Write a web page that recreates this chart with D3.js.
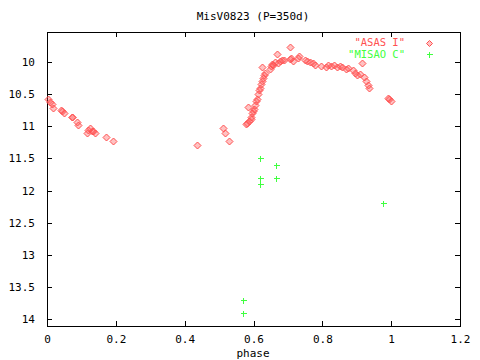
<!DOCTYPE html>
<html><head><meta charset="utf-8">
<script src="https://cdn.jsdelivr.net/npm/d3@7"></script>
<style>body{margin:0;background:#fff}svg{display:block}text{font-family:"DejaVu Sans Mono",monospace;font-size:11px}</style>
</head><body>
<script>
const title = "MisV0823 (P=350d)";
const xLabel = "phase";
const seriesNames = ["\"ASAS I\"", "\"MISAO C\""];
const seriesColors = ["#ff5050", "#40ff40"];
const xTicks = [0, 0.2, 0.4, 0.6, 0.8, 1, 1.2];
const yTicks = [10, 10.5, 11, 11.5, 12, 12.5, 13, 13.5, 14];
const asasPhase = [0.003,0.010,0.014,0.017,0.040,0.045,0.050,0.072,0.074,0.088,0.091,0.117,0.120,0.125,0.130,0.135,0.140,0.172,0.193,
 0.436,0.512,0.518,0.530,
 0.577,0.580,0.585,0.588,0.592,0.594,0.597,0.599,0.601,0.604,0.607,0.610,0.613,0.616,0.620,0.623,0.625,0.627,0.631,0.634,0.625,
 0.648,0.651,0.654,0.658,0.662,0.667,0.670,0.676,0.684,0.690,0.705,0.707,0.708,0.715,0.730,0.733,0.750,0.756,0.765,0.772,0.779,
 0.795,0.810,0.816,0.826,0.833,0.842,0.850,0.858,0.870,0.876,0.888,0.896,0.900,0.916,0.910,0.920,0.927,0.933,0.936,0.990,0.995,1.000];
const asasMag = [10.58,10.62,10.66,10.71,10.75,10.77,10.80,10.85,10.86,10.94,10.98,11.10,11.06,11.03,11.08,11.07,11.11,11.16,11.23,
 11.29,11.03,11.11,11.23,
 10.97,10.95,10.70,10.92,10.89,10.85,10.80,10.76,10.73,10.67,10.60,10.57,10.50,10.44,10.40,10.35,10.30,10.25,10.20,10.17,10.08,
 10.11,10.06,10.03,10.05,10.00,9.88,10.02,9.99,9.97,9.97,9.96,9.76,9.94,9.98,9.93,9.90,9.97,9.98,10.00,10.02,10.04,
 10.06,10.07,10.05,10.06,10.05,10.07,10.06,10.08,10.11,10.10,10.13,10.17,10.20,10.02,10.19,10.24,10.29,10.36,10.40,10.56,10.58,10.61];
const misaoPhase = [0.620,0.666,0.620,0.666,0.620,0.976,0.569,0.569];
const misaoMag = [11.50,11.61,11.81,11.81,11.90,12.20,13.71,13.91];

const W = 480, H = 360;
const L = 47, R = 460, T = 32, B = 326;
const svg = d3.select("body").append("svg").attr("width", W).attr("height", H);
const x = d3.scaleLinear().domain([0, 1.2]).range([L, R]);
const y = d3.scaleLinear().domain([9.533, 14.109]).range([T, B]);

svg.append("text").attr("x", 253).attr("y", 20).attr("text-anchor", "middle").text(title);
svg.append("text").attr("x", 253).attr("y", 357).attr("text-anchor", "middle").text(xLabel);

const g = svg.append("g").attr("shape-rendering", "crispEdges");
const fmt = d => String(d);
const xb = g.append("g").attr("transform", `translate(0,${B})`).call(d3.axisBottom(x).tickValues(xTicks).tickFormat(fmt).tickSizeInner(-5).tickSizeOuter(0).tickPadding(9));
const xt = g.append("g").attr("transform", `translate(0,${T})`).call(d3.axisTop(x).tickValues(xTicks).tickFormat("").tickSizeInner(-5).tickSizeOuter(0));
const yl = g.append("g").attr("transform", `translate(${L},0)`).call(d3.axisLeft(y).tickValues(yTicks).tickFormat(fmt).tickSizeInner(-5).tickSizeOuter(0).tickPadding(12));
const yr = g.append("g").attr("transform", `translate(${R},0)`).call(d3.axisRight(y).tickValues(yTicks).tickFormat("").tickSizeInner(-5).tickSizeOuter(0));
[xb, xt, yl, yr].forEach(a => { a.select(".domain").remove(); a.selectAll("line").attr("stroke", "#000"); a.selectAll("text").attr("fill", "#000").style("font-size", "11px").style("font-family", "'DejaVu Sans Mono',monospace"); });
g.append("rect").attr("x", L).attr("y", T).attr("width", R - L).attr("height", B - T).attr("fill", "none").attr("stroke", "#000");

const diamond = (cx, cy, r) => `M${cx},${cy - r}L${cx + r},${cy}L${cx},${cy + r}L${cx - r},${cy}Z`;
const plus = (cx, cy, r) => `M${cx - r},${cy}H${cx + r}M${cx},${cy - r}V${cy + r}`;

const asas = asasPhase.map((p, i) => [p, asasMag[i]]);
const misao = misaoPhase.map((p, i) => [p, misaoMag[i]]);

svg.append("g").selectAll("path").data(asas).join("path")
  .attr("d", d => diamond(Math.round(x(d[0])) + 0.5, Math.round(y(d[1])) + 0.5, 3.5))
  .attr("fill", seriesColors[0]).attr("fill-opacity", 0.35).attr("stroke", seriesColors[0]).attr("stroke-width", 1);
svg.append("g").selectAll("path").data(misao).join("path")
  .attr("d", d => plus(Math.round(x(d[0])) + 0.5, Math.round(y(d[1])) + 0.5, 3))
  .attr("fill", "none").attr("stroke", seriesColors[1]).attr("stroke-width", 1).attr("shape-rendering", "crispEdges");

const leg = svg.append("g");
[0, 1].forEach(i => {
  const ly = 42.5 + i * 11.5;
  leg.append("text").attr("x", 405).attr("y", ly + 3.5).attr("text-anchor", "end").attr("fill", seriesColors[i]).style("font-size", "10.5px").text(seriesNames[i]);
  leg.append("path").attr("d", i === 0 ? diamond(429.5, Math.round(ly) + 0.5, 3) : plus(429.5, Math.round(ly) + 0.5, 3))
    .attr("fill", i === 0 ? seriesColors[0] : "none").attr("fill-opacity", 0.35).attr("stroke", seriesColors[i]).attr("shape-rendering", i ? "crispEdges" : null);
});
</script>
</body></html>
